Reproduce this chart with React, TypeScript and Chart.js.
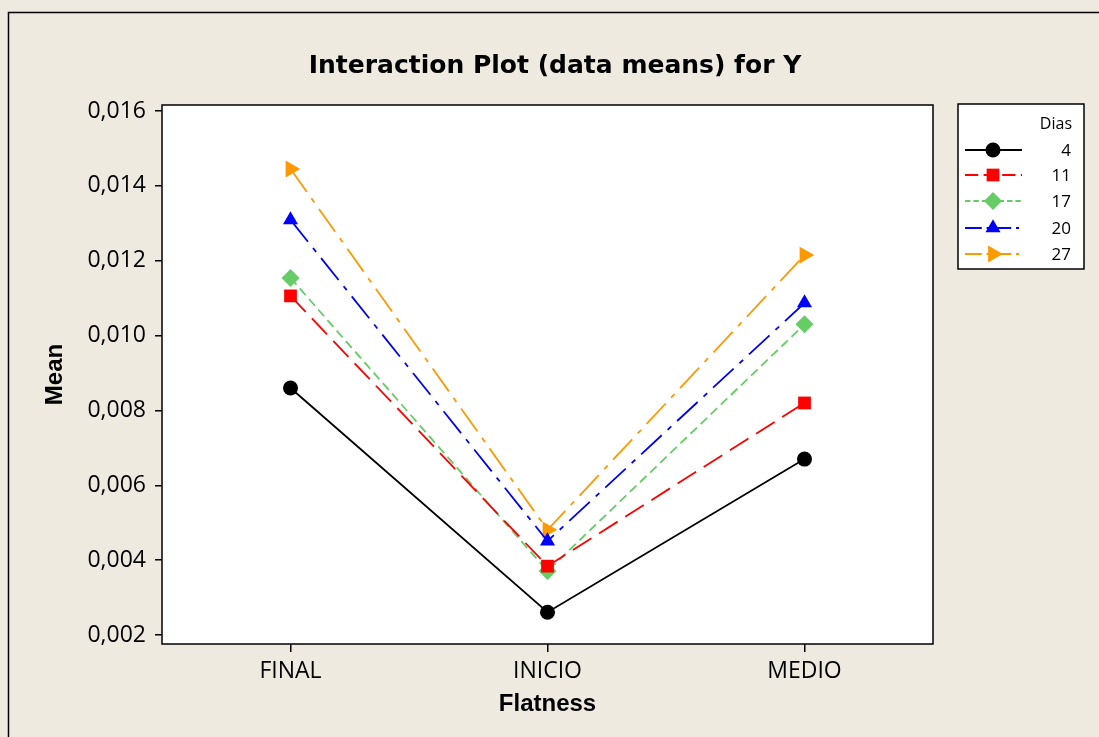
import React, { useEffect, useRef } from 'react';
import { Chart, registerables } from 'chart.js';

Chart.register(...registerables);

const categories = ['FINAL', 'INICIO', 'MEDIO'];
const seriesNames = ['4', '11', '17', '20', '27'];
const dias4 = [0.0086, 0.00261, 0.0067];
const dias11 = [0.01106, 0.00384, 0.0082];
const dias17 = [0.01154, 0.00371, 0.0103];
const dias20 = [0.01309, 0.00451, 0.01087];
const dias27 = [0.01445, 0.00481, 0.01215];
const yTicks = [0.002, 0.004, 0.006, 0.008, 0.01, 0.012, 0.014, 0.016];

const BG = '#EEEAE0';
const TICK_FONT = '"Open Sans", "DejaVu Sans", sans-serif';
const TITLE_FONT = '"DejaVu Sans", Verdana, sans-serif';
const AXIS_FONT = '"Liberation Sans", Arial, sans-serif';

type Style = {
  color: string;
  dash: number[];
  point: string;
  radius: number;
  rotation: number;
};

const styles: Style[] = [
  { color: '#000000', dash: [], point: 'circle', radius: 7.5, rotation: 0 },
  { color: '#FF0000', dash: [22, 9], point: 'rect', radius: 9, rotation: 0 },
  { color: '#66CC66', dash: [9, 5], point: 'rectRot', radius: 9, rotation: 0 },
  { color: '#0000FF', dash: [28, 8, 5, 8], point: 'triangle', radius: 8.7, rotation: 0 },
  { color: '#FF9900', dash: [28, 8, 5, 8], point: 'triangle', radius: 9.7, rotation: 90 },
];

const seriesValues = [dias4, dias11, dias17, dias20, dias27];

function drawMarker(ctx: CanvasRenderingContext2D, kind: string, rot: number, x: number, y: number, r: number) {
  ctx.save();
  ctx.translate(x, y);
  ctx.rotate((rot * Math.PI) / 180);
  ctx.beginPath();
  if (kind === 'circle') {
    ctx.arc(0, 0, r, 0, Math.PI * 2);
  } else if (kind === 'rect') {
    const s = r * Math.SQRT1_2;
    ctx.rect(-s, -s, 2 * s, 2 * s);
  } else if (kind === 'rectRot') {
    ctx.moveTo(0, -r);
    ctx.lineTo(r, 0);
    ctx.lineTo(0, r);
    ctx.lineTo(-r, 0);
    ctx.closePath();
  } else if (kind === 'triangle') {
    ctx.moveTo(0, -r);
    ctx.lineTo(r * 0.866, r * 0.5);
    ctx.lineTo(-r * 0.866, r * 0.5);
    ctx.closePath();
  }
  ctx.fill();
  ctx.restore();
}

const decorPlugin = {
  id: 'decor',
  beforeDraw(chart: any) {
    const { ctx, chartArea: a, width, height } = chart;
    ctx.save();
    ctx.fillStyle = BG;
    ctx.fillRect(0, 0, width, height);
    ctx.strokeStyle = '#000';
    ctx.lineWidth = 1.5;
    ctx.strokeRect(8.5, 12.5, width + 20, height + 20);
    ctx.fillStyle = '#fff';
    ctx.fillRect(a.left, a.top, a.right - a.left, a.bottom - a.top);
    ctx.restore();
  },
  afterDraw(chart: any) {
    const { ctx, chartArea: a } = chart;
    ctx.save();
    ctx.strokeStyle = '#000';
    ctx.lineWidth = 1.5;
    ctx.setLineDash([]);
    ctx.strokeRect(a.left, a.top, a.right - a.left, a.bottom - a.top);

    // Title
    ctx.fillStyle = '#000';
    ctx.font = `bold 25px ${TITLE_FONT}`;
    ctx.textAlign = 'center';
    ctx.textBaseline = 'middle';
    ctx.fillText('Interaction Plot (data means) for Y', 555, 66);

    // Axis titles
    ctx.font = `bold 24px ${AXIS_FONT}`;
    ctx.fillText('Flatness', (a.left + a.right) / 2, 704);
    ctx.save();
    ctx.translate(55, (a.top + a.bottom) / 2);
    ctx.rotate(-Math.PI / 2);
    ctx.fillText('Mean', 0, 0);
    ctx.restore();

    // Legend
    const lx = 958, ly = 104, lw = 126, lh = 165;
    ctx.fillStyle = '#fff';
    ctx.fillRect(lx, ly, lw, lh);
    ctx.strokeRect(lx, ly, lw, lh);
    ctx.fillStyle = '#000';
    ctx.font = `16px ${TICK_FONT}`;
    ctx.textAlign = 'right';
    ctx.fillText('Dias', 1072, 124);
    const rowY = [150, 175, 201, 228, 254];
    seriesNames.forEach((name, i) => {
      const st = styles[i];
      const y = rowY[i];
      ctx.strokeStyle = st.color;
      ctx.lineWidth = 1.8;
      ctx.setLineDash(st.dash.map((d) => d * 0.6));
      ctx.beginPath();
      ctx.moveTo(965, y);
      ctx.lineTo(1022, y);
      ctx.stroke();
      ctx.setLineDash([]);
      ctx.fillStyle = st.color;
      drawMarker(ctx, st.point, st.rotation, 993, y, st.radius);
      ctx.fillStyle = '#000';
      ctx.font = `17px ${TICK_FONT}`;
      ctx.textAlign = 'right';
      ctx.fillText(name, 1071, y + 1);
    });
    ctx.restore();
  },
};

export default function App() {
  const ref = useRef<HTMLCanvasElement | null>(null);
  useEffect(() => {
    if (!ref.current) return;
    const chart = new Chart(ref.current, {
      type: 'line',
      data: {
        labels: categories,
        datasets: seriesNames.map((name, i) => ({
          label: name,
          data: seriesValues[i],
          borderColor: styles[i].color,
          backgroundColor: styles[i].color,
          borderWidth: 1.8,
          borderDash: styles[i].dash,
          pointStyle: styles[i].point as any,
          pointRadius: styles[i].radius,
          pointRotation: styles[i].rotation,
          pointBorderWidth: 0,
          pointBackgroundColor: styles[i].color,
          tension: 0,
          fill: false,
        })),
      },
      options: {
        responsive: false,
        animation: false,
        layout: { padding: { top: 105, right: 166, bottom: 0, left: 0 } },
        plugins: {
          legend: { display: false },
          title: { display: false },
          tooltip: { enabled: false },
        },
        scales: {
          x: {
            type: 'category',
            offset: true,
            grid: {
              display: true,
              drawOnChartArea: false,
              drawTicks: true,
              tickLength: 8,
              color: '#000',
              lineWidth: 1.5,
              offset: false,
            },
            border: { display: false },
            ticks: {
              color: '#000',
              font: { family: TICK_FONT, size: 23 },
              padding: 6,
              maxRotation: 0,
            },
            afterFit: (s: any) => {
              s.height = 93;
            },
          },
          y: {
            type: 'linear',
            min: 0.00176,
            max: 0.01616,
            afterBuildTicks: (s: any) => {
              s.ticks = yTicks.map((v) => ({ value: v }));
            },
            grid: {
              display: true,
              drawOnChartArea: false,
              drawTicks: true,
              tickLength: 7,
              color: '#000',
              lineWidth: 1.5,
            },
            border: { display: false },
            ticks: {
              color: '#000',
              font: { family: TICK_FONT, size: 23 },
              padding: 9,
              callback: (v: any) => Number(v).toFixed(3).replace('.', ','),
            },
            afterFit: (s: any) => {
              s.width = 162;
            },
          },
        },
      },
      plugins: [decorPlugin],
    });
    return () => chart.destroy();
  }, []);
  return (
    <div style={{ position: 'absolute', left: 0, top: 0, width: 1099, height: 737 }}>
      <canvas ref={ref} width={1099} height={737} />
    </div>
  );
}
